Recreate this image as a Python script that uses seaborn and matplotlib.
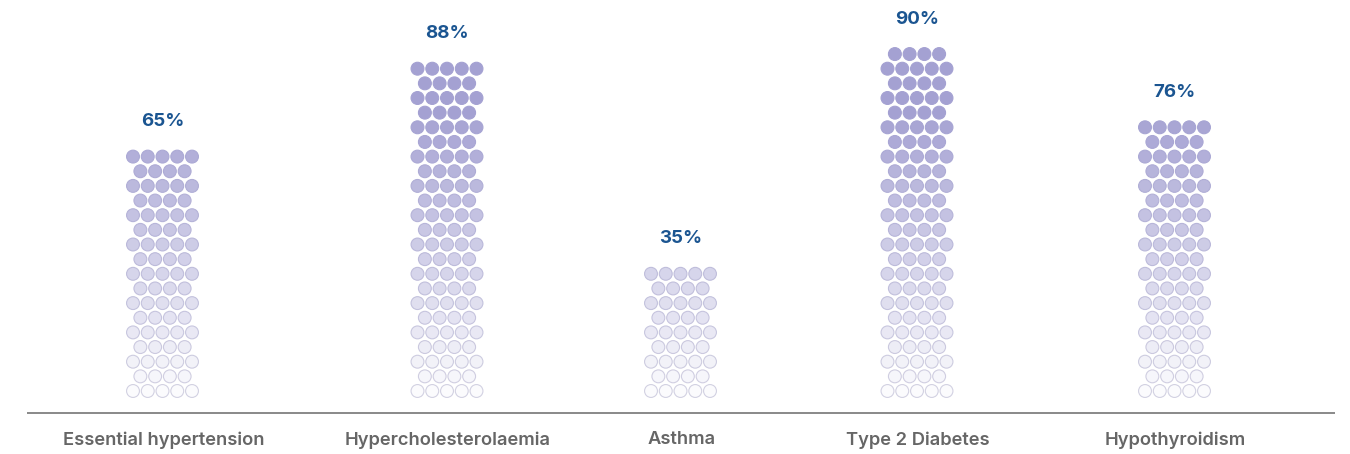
import numpy as np
import pandas as pd
import seaborn as sns
import matplotlib
matplotlib.use("Agg")
import matplotlib.pyplot as plt
from matplotlib.colors import to_rgb

# Data
categories = ["Essential hypertension", "Hypercholesterolaemia", "Asthma",
              "Type 2 Diabetes", "Hypothyroidism"]
percentages = [65, 88, 35, 90, 76]
dot_rows = [17, 23, 9, 24, 19]          # stacked rows of dots per column

# Layout (pixel-based canvas)
W, H = 1350, 454
col_centers = [162.5, 447, 680.5, 917, 1174.5]
base_y = 391.0
row_step = 14.65
dot_step = 14.75
saturate_row = 19

sns.set_style("white")
plt.rcParams["font.family"] = ["Inter", "DejaVu Sans"]

low_fill = np.array(to_rgb("#fbfbfd"))
low_edge = np.array(to_rgb("#d2d1e2"))
top_col = np.array(to_rgb("#a4a1d2"))

records = []
for ci, (cx, nrows) in enumerate(zip(col_centers, dot_rows)):
    for r in range(nrows):
        n = 5 if r % 2 == 0 else 4
        xs = cx + (np.arange(n) - (n - 1) / 2) * dot_step
        t = min(r / saturate_row, 1.0)
        fill = low_fill + (top_col - low_fill) * t
        edge = low_edge + (top_col - low_edge) * t
        for x in xs:
            records.append({"x": x, "y": base_y - r * row_step, "row": r,
                            "fill": tuple(fill), "edge": tuple(edge)})
dots = pd.DataFrame(records)

fig = plt.figure(figsize=(W / 100, H / 100), dpi=100)
ax = fig.add_axes([0, 0, 1, 1])
ax.set_xlim(0, W)
ax.set_ylim(H, 0)
ax.axis("off")

sns.scatterplot(data=dots, x="x", y="y", ax=ax, legend=False,
                c=list(dots["fill"]), edgecolor=list(dots["edge"]),
                linewidth=0.8, s=86)

# Value labels above each column
for cx, nrows, pct in zip(col_centers, dot_rows, percentages):
    top_y = base_y - (nrows - 1) * row_step
    ax.text(cx, top_y - 35, f"{pct}%", ha="center", va="center",
            fontsize=13.5, fontweight=700, color="#1b5591")

# Baseline and category labels
ax.plot([27, 1335], [413, 413], color="#808080", lw=1.3, solid_capstyle="butt")
for cx, cat in zip(col_centers, categories):
    ax.text(cx + 1, 440, cat, ha="center", va="center",
            fontsize=13.2, fontweight=600, color="#666666")

fig.savefig("out.png", dpi=100, facecolor="white")
